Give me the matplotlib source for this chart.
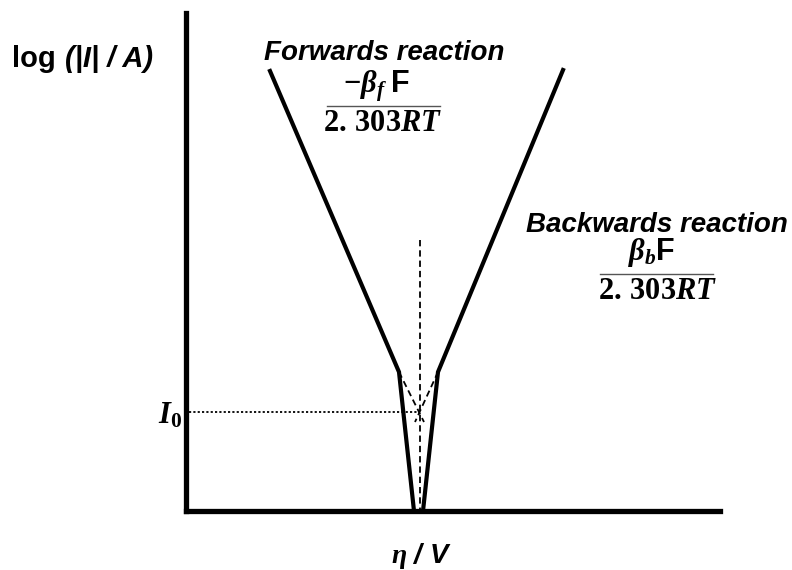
import matplotlib
matplotlib.use("Agg")
import matplotlib.pyplot as plt

# Schematic Tafel plot drawn in a canvas coordinate system (x right, y down)
plt.rcParams.update({
    "mathtext.fontset": "custom",
    "mathtext.rm": "Liberation Serif:bold",
    "mathtext.it": "Liberation Serif:bold:italic",
    "mathtext.bf": "Liberation Serif:bold",
    "mathtext.sf": "Liberation Sans:bold",
})

# Axes frame
origin = (186, 511)
y_axis_top = 13
x_axis_right = 720

# Forward (cathodic) branch: Tafel region then bend down to the equilibrium point
forward_eta = [270, 399, 414]
forward_logi = [71, 372, 511]

# Backward (anodic) branch
backward_eta = [563, 438, 423]
backward_logi = [70, 372, 511]

# Extrapolated Tafel lines crossing at the exchange current
extrap_fwd_eta = [399, 424]
extrap_fwd_logi = [372, 422]
extrap_bwd_eta = [438, 415]
extrap_bwd_logi = [372, 422]

# Equilibrium potential marker and exchange current level
eq_eta = 420
eq_top = 240
i0_level = 412

fig = plt.figure(figsize=(7.92, 5.70), dpi=100)
ax = fig.add_axes([0, 0, 1, 1])
ax.set_xlim(0, 792)
ax.set_ylim(570, 0)
ax.axis("off")

# axes lines
ax.plot([origin[0], origin[0]], [origin[1], y_axis_top], color="black", lw=3.8,
        solid_capstyle="projecting")
ax.plot([origin[0], x_axis_right], [origin[1], origin[1]], color="black", lw=3.8,
        solid_capstyle="projecting")

# branches
ax.plot(forward_eta, forward_logi, color="black", lw=3.0, solid_joinstyle="miter")
ax.plot(backward_eta, backward_logi, color="black", lw=3.0, solid_joinstyle="miter")

# construction lines
ax.plot(extrap_fwd_eta, extrap_fwd_logi, color="black", lw=1.3, dashes=(3.5, 2.2))
ax.plot(extrap_bwd_eta, extrap_bwd_logi, color="black", lw=1.3, dashes=(3.5, 2.2))
ax.plot([eq_eta, eq_eta], [eq_top, origin[1]], color="black", lw=1.3, dashes=(3.5, 2.2))
ax.plot([origin[0] + 3, eq_eta], [i0_level, i0_level], color="black", lw=1.3,
        dashes=(1.2, 1.2))

sans_b = dict(family="Liberation Sans", weight="bold", size=21)
sans_bi = dict(family="Liberation Sans", weight="bold", style="italic", size=21)
label_bi = dict(family="Liberation Sans", weight="bold", style="italic", size=20)

# y-axis label: upright "log", italic quantity and unit
y_base = 67
ax.text(12, y_base, "log", ha="left", va="baseline", **sans_b)
ax.text(65, y_base, "(|I| / A)", ha="left", va="baseline", **sans_bi)

# x-axis label
ax.text(421, 563, r"$\eta$ / V", ha="center", va="baseline", **label_bi)

# exchange current label
ax.text(182, 423, r"$I_0$", ha="right", va="baseline", fontsize=22)


def fraction(num, den, x_num, x_den, y_bar, x0, x1):
    ax.text(x_num, y_bar - 14, num, ha="center", va="baseline", fontsize=22)
    ax.plot([x0, x1], [y_bar, y_bar], color="#555555", lw=1.0)
    ax.text(x_den, y_bar + 25, den, ha="center", va="baseline", fontsize=22)


# branch annotations
ax.text(384, 60, "Forwards reaction", ha="center", va="baseline", **label_bi)
fraction(r"$-\beta_f\;\mathsf{F}$", r"$2.\,303RT$", 376, 383, 106, 327, 440)

ax.text(657, 232, "Backwards reaction", ha="center", va="baseline", **label_bi)
fraction(r"$\beta_b\mathsf{F}$", r"$2.\,303RT$", 652, 658, 274, 600, 713)

fig.savefig("out.png", dpi=100)
